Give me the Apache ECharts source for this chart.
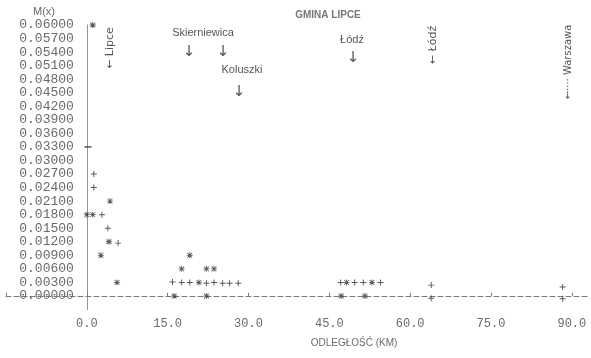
<!DOCTYPE html>
<html>
<head>
<meta charset="utf-8">
<script src="https://cdn.jsdelivr.net/npm/echarts@6/dist/echarts.min.js"></script>
<style>
  html, body { margin: 0; padding: 0; background: #fff; }
  #chart { width: 591px; height: 358px; }
</style>
</head>
<body>
<div id="chart"></div>
<script>
// printer-style plot: M(x) against distance in km
const xTicks = [0, 15, 30, 45, 60, 75, 90];

// points printed as "*"
const starX = [1.1, 0.0, 1.1, 4.3, 4.1, 2.6, 5.6, 19.1, 17.6, 22.2, 23.6, 20.8, 16.2, 22.2, 48.2, 52.9, 47.2, 51.6];
const starY = [0.060, 0.018, 0.018, 0.021, 0.012, 0.009, 0.003, 0.009, 0.006, 0.006, 0.006, 0.003, 0.0, 0.0, 0.003, 0.003, 0.0, 0.0];

// points printed as "+"
const plusX = [1.3, 1.3, 2.8, 3.9, 5.8, 15.9, 17.6, 19.1, 22.2, 23.6, 25.2, 26.5, 28.1, 47.1, 49.7, 51.3, 54.5, 63.9, 63.9, 88.3, 88.3];
const plusY = [0.027, 0.024, 0.018, 0.015, 0.0117, 0.0031, 0.003, 0.003, 0.0028, 0.003, 0.0028, 0.0028, 0.0028, 0.003, 0.003, 0.003, 0.003, 0.0024, -0.0005, 0.002, -0.0006];

// the lone "-" mark on the axis
const dashX = [0.2];
const dashY = [0.033];

const pairs = (xs, ys) => xs.map((x, i) => [x, ys[i]]);

const mono = "Liberation Mono";
const sans = "Liberation Sans";
const ink = "#2e2e2e";
const grey = "#6a6a6a";

const gridLeft = 6, gridRight = 3, xMin = -15, xMax = 93;
// push the y axis over to x = 0 (labels travel with it)
const yShift = (0 - xMin) * (591 - gridLeft - gridRight) / (xMax - xMin);

const chart = echarts.init(document.getElementById("chart"));

const option = {
  backgroundColor: "#fff",
  animation: false,
  grid: { left: gridLeft, right: gridRight, top: 25, bottom: 48.5, containLabel: false, outerBoundsMode: "none" },
  xAxis: {
    type: "value",
    min: xMin,
    max: xMax,
    interval: 15,
    splitLine: { show: false },
    axisLine: { lineStyle: { color: "#777", type: [5, 3], width: 1 } },
    axisTick: { show: true, inside: true, length: 3, lineStyle: { color: "#777" } },
    axisLabel: {
      showMaxLabel: false,
      margin: 8,
      fontFamily: mono,
      fontSize: 12,
      color: grey,
      formatter: v => (xTicks.indexOf(v) >= 0 ? v.toFixed(1) : "")
    }
  },
  yAxis: {
    type: "value",
    min: -0.003,
    max: 0.06,
    interval: 0.003,
    offset: -yShift,
    splitLine: { show: false },
    axisLine: { onZero: false, lineStyle: { color: "#888", type: "dotted", width: 1 } },
    axisTick: { show: false },
    axisLabel: {
      margin: 13,
      fontFamily: mono,
      fontSize: 13,
      color: grey,
      formatter: v => (v < -1e-9 ? "" : v.toFixed(5))
    }
  },
  graphic: [
    { type: "text", left: 33, top: 6, style: { text: "M(x)", font: "11px " + sans, fill: grey } },
    { type: "text", x: 328, y: 15, style: { text: "GMINA LIPCE", font: "bold 10px " + sans, fill: "#777", align: "center", verticalAlign: "middle" } },
    { type: "text", x: 203, y: 33, style: { text: "Skierniewica", font: "11px " + sans, fill: "#555", align: "center", verticalAlign: "middle" } },
    { type: "text", x: 189, y: 52, style: { text: "↓", font: "15px DejaVu Sans", fill: "#555", align: "center", verticalAlign: "middle" } },
    { type: "text", x: 223, y: 52, style: { text: "↓", font: "15px DejaVu Sans", fill: "#555", align: "center", verticalAlign: "middle" } },
    { type: "text", x: 242, y: 70, style: { text: "Koluszki", font: "11px " + sans, fill: "#555", align: "center", verticalAlign: "middle" } },
    { type: "text", x: 239, y: 92, style: { text: "↓", font: "15px DejaVu Sans", fill: "#555", align: "center", verticalAlign: "middle" } },
    { type: "text", x: 352, y: 40, style: { text: "Łódź", font: "11px " + sans, fill: "#555", align: "center", verticalAlign: "middle" } },
    { type: "text", x: 353, y: 58, style: { text: "↓", font: "15px DejaVu Sans", fill: "#555", align: "center", verticalAlign: "middle" } },
    { type: "text", x: 110, y: 48, rotation: Math.PI / 2, style: { text: "← Lipce", font: "11px DejaVu Sans", fill: "#555", align: "center", verticalAlign: "middle" } },
    { type: "text", x: 433, y: 45, rotation: Math.PI / 2, style: { text: "← Łódź", font: "11px DejaVu Sans", fill: "#555", align: "center", verticalAlign: "middle" } },
    { type: "text", x: 568, y: 62, rotation: Math.PI / 2, style: { text: "←···· Warszawa", font: "10px DejaVu Sans", fill: "#555", align: "center", verticalAlign: "middle" } },
    { type: "text", x: 354, y: 343, style: { text: "ODLEGŁOŚĆ (KM)", font: "10px " + sans, fill: grey, align: "center", verticalAlign: "middle" } }
  ],
  series: [
    {
      name: "star",
      type: "scatter",
      symbol: "path://M0,4.3H10V5.7H0Z M4.3,0H5.7V10H4.3Z M1.5,0.5L9.5,8.5L8.5,9.5L0.5,1.5Z M8.5,0.5L9.5,1.5L1.5,9.5L0.5,8.5Z",
      symbolSize: 6,
      itemStyle: { color: ink },
      data: pairs(starX, starY)
    },
    {
      name: "plus",
      type: "scatter",
      symbol: "path://M0,4.2H10V5.8H0Z M4.2,0H5.8V10H4.2Z",
      symbolSize: 6,
      itemStyle: { color: ink },
      data: pairs(plusX, plusY)
    },
    {
      name: "dash",
      type: "scatter",
      symbol: "path://M0,0H10V2H0Z",
      symbolSize: [7, 1.5],
      itemStyle: { color: ink },
      data: pairs(dashX, dashY)
    }
  ]
};

chart.setOption(option);
</script>
</body>
</html>
